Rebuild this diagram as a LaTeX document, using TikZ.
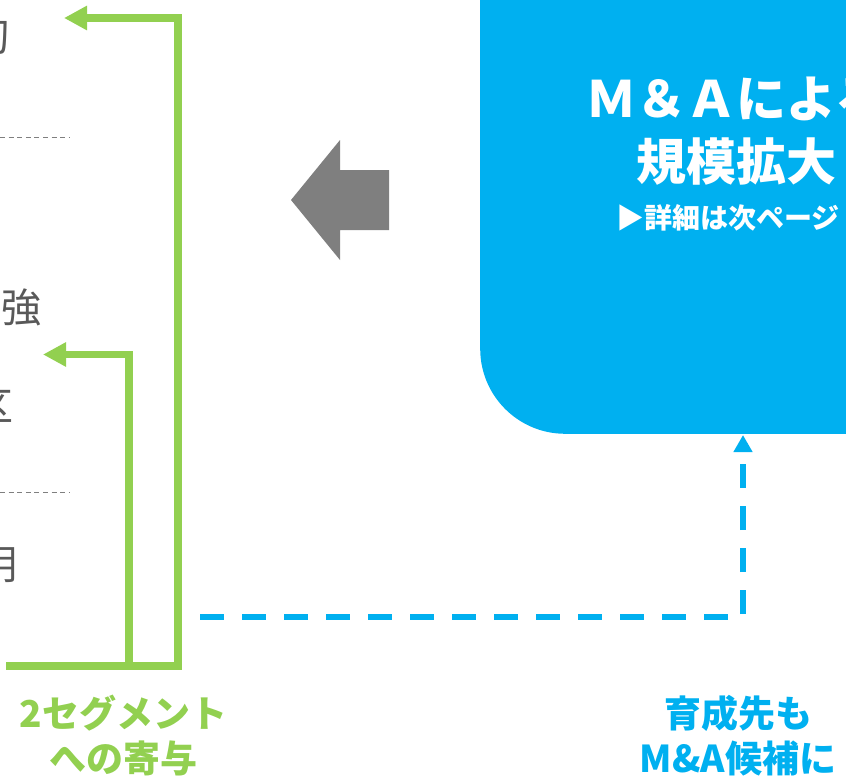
\documentclass[tikz,border=0pt]{standalone}
\usepackage{fontspec}
\setmainfont{Noto Sans CJK JP}
\usetikzlibrary{arrows.meta}
\definecolor{grn}{HTML}{92D050}
\definecolor{blu}{HTML}{00B0F0}
\definecolor{txtgray}{HTML}{595959}
\definecolor{arrgray}{HTML}{7F7F7F}
\tikzset{
  sidetxt/.style={anchor=east, inner sep=0pt, text=txtgray, font=\fontsize{40}{48}\selectfont},
  sep/.style={draw=arrgray, line width=1pt, dash pattern=on 5pt off 3.6pt},
  grnline/.style={draw=grn, line width=7.5pt, line join=miter, -{Triangle[length=23pt,width=23pt]}},
  bludash/.style={draw=blu, line width=6pt, dash pattern=on 24pt off 18pt, -{Triangle[length=17pt,width=18pt]}},
  boxtxt/.style={text=white, font=\bfseries\fontsize{50}{63}\selectfont, align=center, inner sep=0pt},
  captxt/.style={font=\bfseries\fontsize{37}{45}\selectfont, align=center, inner sep=0pt}
}
\begin{document}
\begin{tikzpicture}[x=1pt,y=-1pt]
\useasboundingbox (0,0) rectangle (846,779);
\clip (0,0) rectangle (846,779);

% blue box
\node[fill=blu, rounded corners=85pt, minimum width=620pt, minimum height=734pt,
      anchor=south west, inner sep=0pt] (box) at (480,434) {};
\node[boxtxt] (boxt) at (736,131.5) {Ｍ＆Ａによる\\規模拡大};
\node[text=white, font=\bfseries\fontsize{28}{32}\selectfont, anchor=west, inner sep=0pt] (boxs) at (616,218) {▶詳細は次ページ};

% gray block arrow
\fill[arrgray] (291,200) -- (340,140) -- (340,170) -- (389,170) -- (389,230) -- (340,230) -- (340,260) -- cycle;

% left texts
\node[sidetxt] (s1) at (10,37) {切};
\node[sidetxt] (s2) at (42,307) {強};
\node[sidetxt] (s3) at (14,408) {区};
\node[sidetxt] (s4) at (18,565) {明};

% separators
\coordinate (d1a) at (0,137);
\coordinate (d1b) at (69,137);
\coordinate (d2a) at (0,492);
\coordinate (d2b) at (69,492);
\draw[sep] (d1a) -- (d1b);
\draw[sep] (d2a) -- (d2b);

% green arrows
\coordinate (gbl) at (6,666);
\coordinate (gbr) at (178,666);
\coordinate (gtop) at (178,18);
\coordinate (gtip) at (64,18);
\coordinate (gib) at (129,666);
\coordinate (gic) at (129,354.5);
\coordinate (gitip) at (43,354.5);
\draw[grnline] (gbl) -- (gbr) -- (gtop) -- (gtip);
\draw[grnline] (gib) -- (gic) -- (gitip);

% blue dashed arrow
\coordinate (bstart) at (200,617);
\coordinate (bcorner) at (743,617);
\coordinate (btip) at (743,435);
\draw[bludash] (bstart) -- (bcorner) -- (btip);

% captions
\node[captxt, text=grn] (cap1) at (123.5,735.5) {2セグメント\\への寄与};
\node[captxt, text=blu] (cap2) at (738,735.5) {育成先も\\M\&A候補に};
\end{tikzpicture}
\end{document}
